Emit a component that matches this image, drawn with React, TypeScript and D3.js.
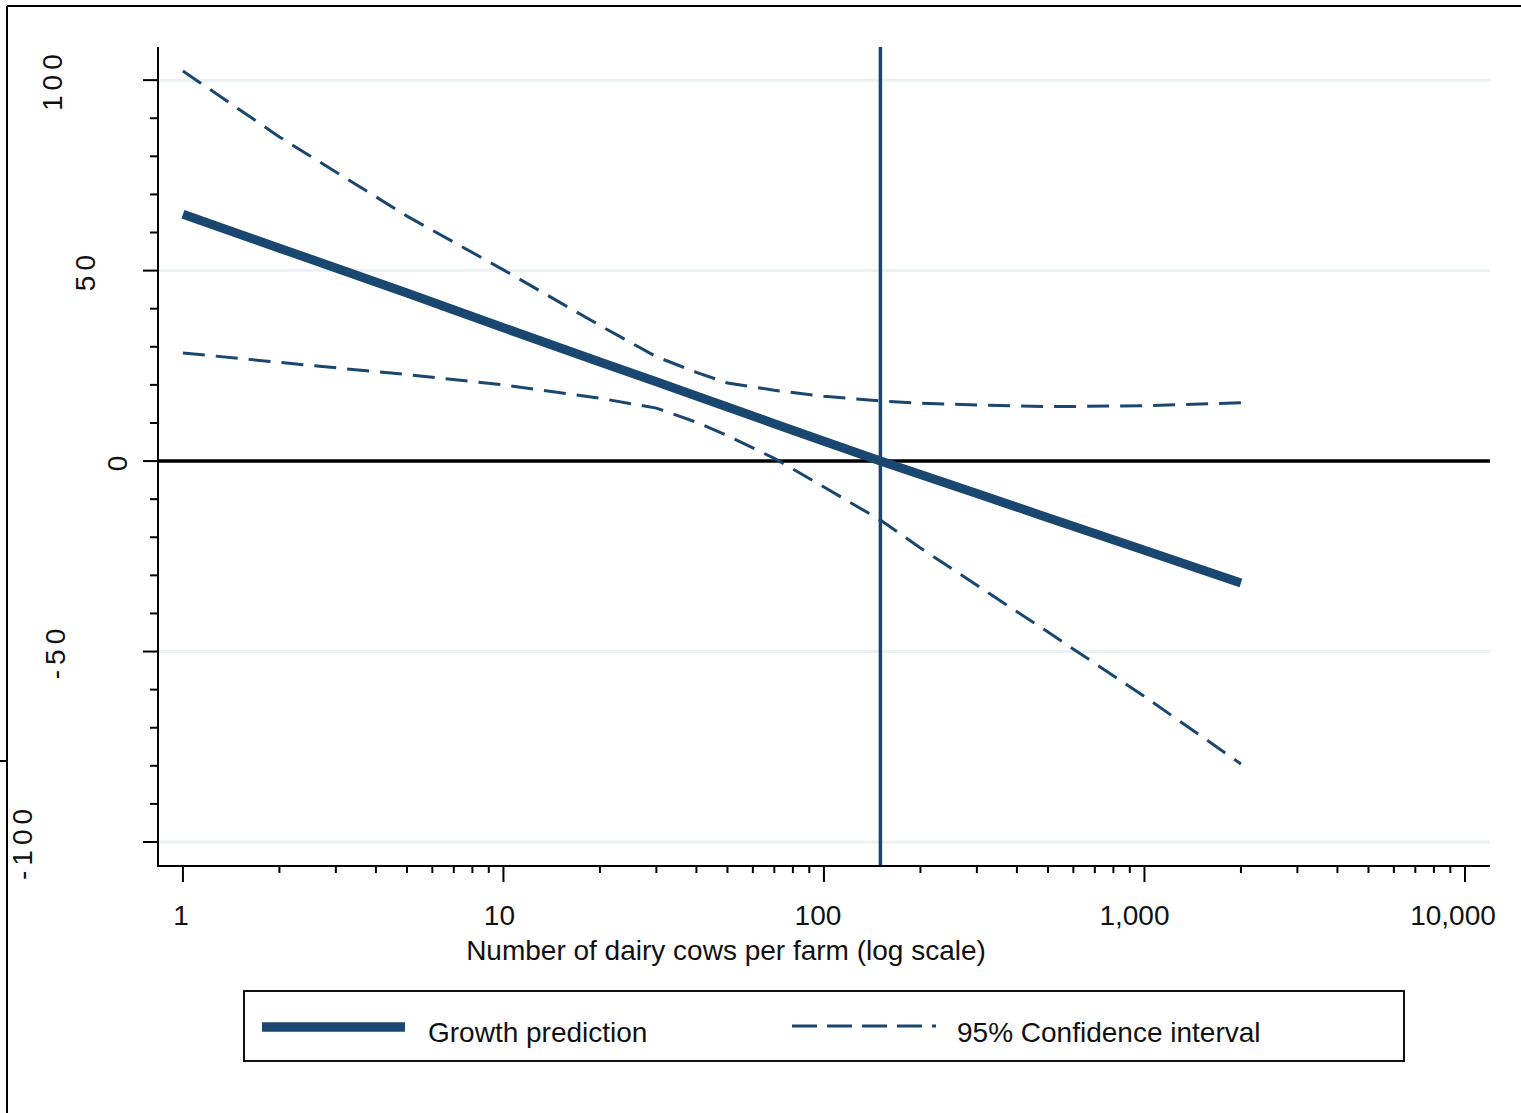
import React from 'react';
import * as d3 from 'd3';

// values
const cows = [1, 2, 5, 10, 20, 30, 40, 50, 70, 100, 150, 200, 300, 500, 1000, 2000];
const prediction = [64.8, 55.9, 44.1, 35.0, 26.0, 20.8, 17.1, 14.2, 9.8, 5.2, 0, -3.5, -8.5, -14.9, -23.4, -32.0];
const ciUpper = [102.4, 85.1, 64.3, 50.2, 35.6, 27.4, 23.3, 20.5, 18.6, 17.0, 15.8, 15.2, 14.7, 14.3, 14.5, 15.3];
const ciLower = [28.4, 25.9, 22.7, 20.0, 16.5, 13.9, 10.2, 6.7, 0.7, -6.8, -15.5, -22.8, -32.6, -44.9, -61.8, -79.5];

const xMajorTicks = [1, 10, 100, 1000, 10000];
const xTickLabels = ['1', '10', '100', '1,000', '10,000'];
const yMajorTicks = [100, 50, 0, -50, -100];
const yTickLabels = ['100', '50', '0', '-50', '-100'];
const cutoff = 150;

const xTitle = 'Number of dairy cows per farm (log scale)';
const legendLabels = ['Growth prediction', '95% Confidence interval'];

const W = 1521, H = 1113;
const navy = '#1a476f';
const font = 'Liberation Sans, Arial, sans-serif';

export default function App() {
  const left = 158, right = 1490, top = 47, bottom = 866;

  const x = d3.scaleLog().domain([0.836, 11970]).range([left, right]);
  const y = d3.scaleLinear().domain([-106.3, 108.7]).range([bottom, top]);

  const line = d3.line<number>()
    .x((_, i) => x(cows[i]))
    .y(d => y(d));

  // minor ticks
  const yMinor = d3.range(-100, 101, 10).filter(v => v % 50 !== 0);
  const xMinor: number[] = [];
  for (let p = 0; p < 4; p++) {
    for (let m = 2; m <= 9; m++) xMinor.push(m * Math.pow(10, p));
  }

  // the rotated y labels sit at uneven distances in the original
  const yLabelX = [62, 95, 127, 65, 32];

  return (
    <svg width={W} height={H} style={{ position: 'absolute', left: 0, top: 0, background: '#fff' }}
      fontFamily={font}>
      {/* outer frame pieces */}
      <line x1={7} x2={W} y1={6} y2={6} stroke="#000" strokeWidth={2} />
      <line x1={7} x2={7} y1={6} y2={H} stroke="#000" strokeWidth={2} />
      <line x1={0} x2={7} y1={761} y2={761} stroke="#000" strokeWidth={2} />

      {/* grid */}
      {yMajorTicks.filter(v => v !== 0).map(v => (
        <line key={'g' + v} x1={left} x2={right} y1={y(v)} y2={y(v)} stroke="#eaf2f3" strokeWidth={3} />
      ))}

      {/* zero line */}
      <line x1={left} x2={right} y1={y(0)} y2={y(0)} stroke="#000" strokeWidth={3.5} />

      {/* cutoff line */}
      <line x1={x(cutoff)} x2={x(cutoff)} y1={top} y2={bottom} stroke={navy} strokeWidth={3.5} />

      {/* confidence interval */}
      <path d={line(ciUpper) || ''} fill="none" stroke={navy} strokeWidth={3} strokeDasharray="22 11" />
      <path d={line(ciLower) || ''} fill="none" stroke={navy} strokeWidth={3} strokeDasharray="22 11" />

      {/* prediction */}
      <path d={line(prediction) || ''} fill="none" stroke={navy} strokeWidth={9} />

      {/* axes */}
      <line x1={left} x2={left} y1={top} y2={bottom + 1} stroke="#000" strokeWidth={2} />
      <line x1={left - 1} x2={right} y1={bottom} y2={bottom} stroke="#000" strokeWidth={2} />

      {yMajorTicks.map(v => (
        <line key={'ym' + v} x1={left - 15} x2={left} y1={y(v)} y2={y(v)} stroke="#000" strokeWidth={2} />
      ))}
      {yMinor.map(v => (
        <line key={'yn' + v} x1={left - 8} x2={left} y1={y(v)} y2={y(v)} stroke="#000" strokeWidth={2} />
      ))}
      {xMajorTicks.map(v => (
        <line key={'xm' + v} x1={x(v)} x2={x(v)} y1={bottom} y2={bottom + 16} stroke="#000" strokeWidth={2} />
      ))}
      {xMinor.map(v => (
        <line key={'xn' + v} x1={x(v)} x2={x(v)} y1={bottom} y2={bottom + 7} stroke="#000" strokeWidth={2} />
      ))}

      {xMajorTicks.map((v, i) => (
        <text key={'xl' + v} x={x(v) - 2 * xTickLabels[i].length} y={925} fontSize={28}
          textAnchor="middle" fill="#111">{xTickLabels[i]}</text>
      ))}
      {yMajorTicks.map((v, i) => (
        <text key={'yl' + v} transform={`translate(${yLabelX[i]},${y(v)}) rotate(-90)`} fontSize={28}
          textAnchor="middle" letterSpacing={5} fill="#111">{yTickLabels[i]}</text>
      ))}

      <text x={726} y={960} fontSize={28} textAnchor="middle" fill="#111">{xTitle}</text>

      {/* legend */}
      <rect x={244} y={991} width={1160} height={70} fill="#fff" stroke="#111" strokeWidth={2} />
      <line x1={262} x2={405} y1={1027} y2={1027} stroke={navy} strokeWidth={9.5} />
      <text x={428} y={1042} fontSize={28} fill="#111">{legendLabels[0]}</text>
      <line x1={792} x2={936} y1={1026} y2={1026} stroke={navy} strokeWidth={3} strokeDasharray="25 10" />
      <text x={957} y={1042} fontSize={28} fill="#111">{legendLabels[1]}</text>
    </svg>
  );
}
